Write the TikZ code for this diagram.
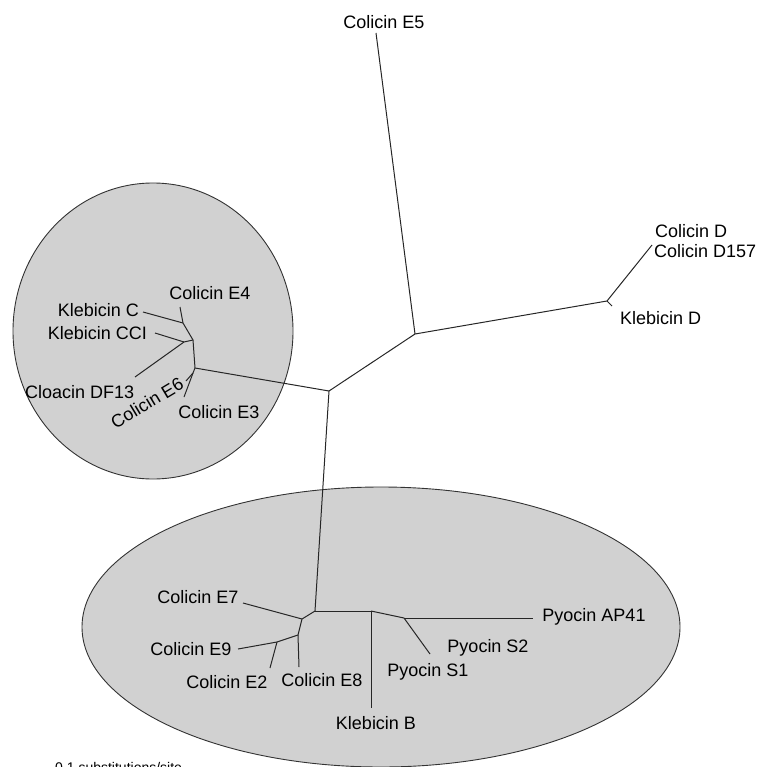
\documentclass[tikz,border=0pt]{standalone}
\usepackage{fontspec}
\setmainfont{Liberation Sans}
\begin{document}
\begin{tikzpicture}[x=1pt,y=-1pt,
    every node/.style={font=\fontsize{18}{20}\selectfont,inner sep=0pt},
    clade/.style={draw=black!80,fill=black!18,line width=0.9pt},
    branch/.style={draw=black!85,line width=1pt}]
      \useasboundingbox (0,0) rectangle (759,767);
      \draw[clade] (153,331) ellipse [x radius=140,y radius=148];
      \draw[clade] (381,627) ellipse [x radius=299,y radius=140];
      % labels
      \draw
        (384,22) node (e5){Colicin E5}
        (655,231) node[anchor=west] (d){Colicin D}
        (654,251) node[anchor=west] (d157){Colicin D157}
        (620,318) node[anchor=west] (kd){Klebicin D}
        (210,293) node (e4){Colicin E4}
        (139,310) node[anchor=east] (kc){Klebicin C}
        (147,333) node[anchor=east] (kcci){Klebicin CCI}
        (25,392) node[anchor=west] (df13){Cloacin DF13}
        (147,403) node[rotate=31] (e6){Colicin E6}
        (219,412) node (e3){Colicin E3}
        (198,597) node (e7){Colicin E7}
        (191,649) node (e9){Colicin E9}
        (227,682) node (e2){Colicin E2}
        (322,680) node (e8){Colicin E8}
        (376,723) node (kb){Klebicin B}
        (428,672) node (s1){Pyocin S1}
        (488,648) node (s2){Pyocin S2}
        (594,617) node (ap41){Pyocin AP41}
        (55,762) node[anchor=north west,font=\fontsize{14}{16}\selectfont] (scale){0.1 substitutions/site};
      % tips and branch points
      \path
        (376,33) coordinate (tE5)
        (415,334) coordinate (nA)
        (607,301) coordinate (nD)
        (652,245) coordinate (tD)
        (612,306) coordinate (tKD)
        (329,391) coordinate (nB)
        (195,368) coordinate (c1)
        (193,340) coordinate (c2)
        (183,323) coordinate (c3)
        (180,307) coordinate (tE4)
        (143,312) coordinate (tKC)
        (184,342) coordinate (c4)
        (155,333) coordinate (tCCI)
        (135,377) coordinate (tDF)
        (193,373) coordinate (c5)
        (186,381) coordinate (tE6)
        (184,397) coordinate (tE3)
        (315,611) coordinate (nC)
        (302,619) coordinate (b1)
        (243,603) coordinate (tE7)
        (298,635) coordinate (b2)
        (299,667) coordinate (tE8)
        (277,642) coordinate (b3)
        (238,649) coordinate (tE9)
        (270,668) coordinate (tE2)
        (371,611) coordinate (b4)
        (371,708) coordinate (tKB)
        (404,618) coordinate (b5)
        (533,618) coordinate (tAP)
        (430,654) coordinate (tS);
      \begin{scope}[branch]
        \draw (tE5) to (nA);
        \draw (nA) to (nD);
        \draw (nD) to (tD);
        \draw (nD) to (tKD);
        \draw (nA) to (nB);
        \draw (nB) to (c1);
        \draw (nB) to (nC);
        \draw (c1) to (c2);
        \draw (c2) to (c3);
        \draw (c3) to (tE4);
        \draw (c3) to (tKC);
        \draw (c2) to (c4);
        \draw (c4) to (tCCI);
        \draw (c4) to (tDF);
        \draw (c1) to (c5);
        \draw (c5) to (tE6);
        \draw (c5) to (tE3);
        \draw (nC) to (b1);
        \draw (b1) to (tE7);
        \draw (b1) to (b2);
        \draw (b2) to (tE8);
        \draw (b2) to (b3);
        \draw (b3) to (tE9);
        \draw (b3) to (tE2);
        \draw (nC) to (b4);
        \draw (b4) to (tKB);
        \draw (b4) to (b5);
        \draw (b5) to (tAP);
        \draw (b5) to (tS);
      \end{scope}
    \end{tikzpicture}
\end{document}
